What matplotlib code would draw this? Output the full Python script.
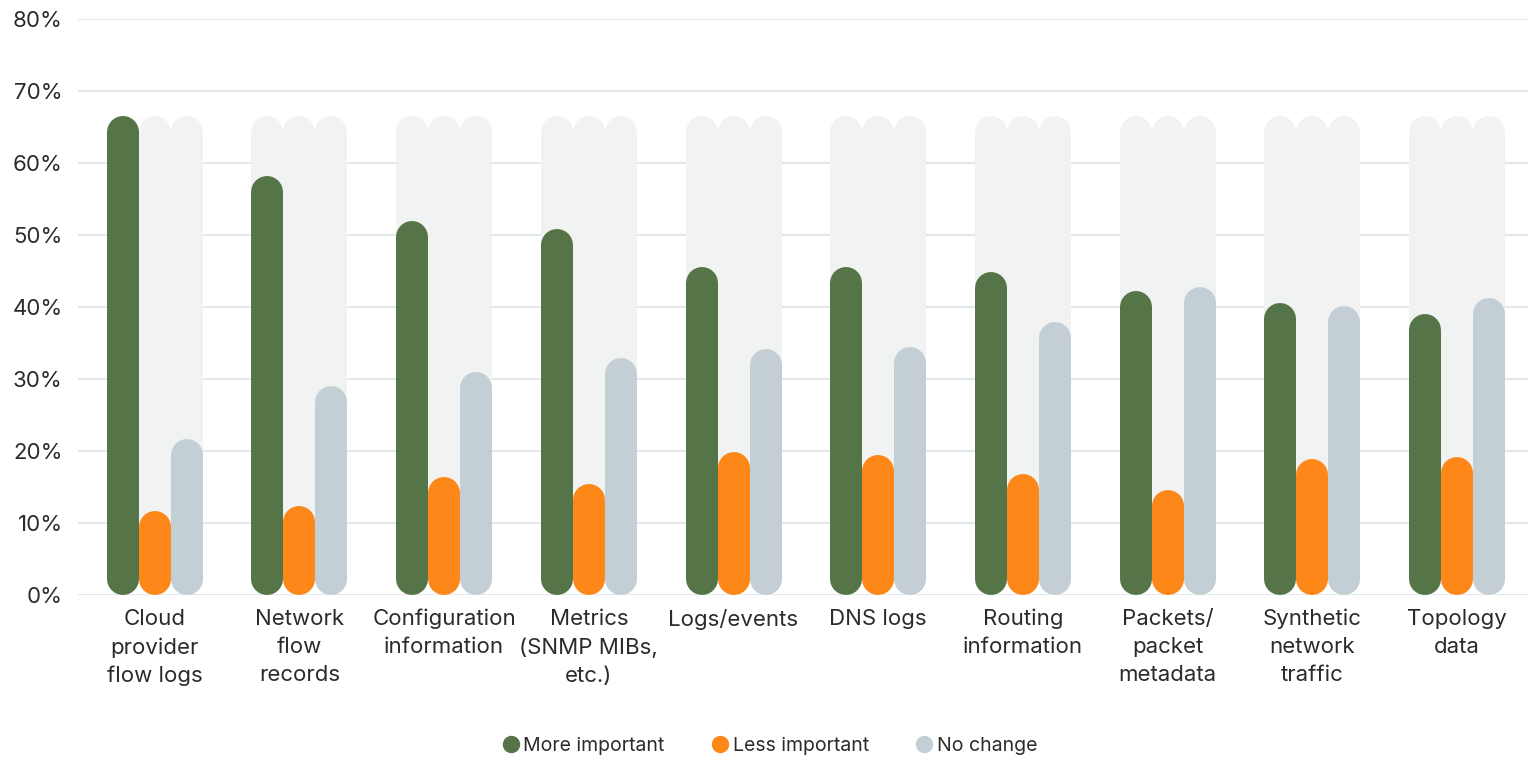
"""Grouped rounded bar chart: importance of network data sources"""

import matplotlib
matplotlib.use('Agg')
import matplotlib.pyplot as plt
from matplotlib.lines import Line2D
from matplotlib.ticker import FuncFormatter

# data
categories = ["Cloud\nprovider\nflow logs", "Network\nflow\nrecords",
              "Configuration\ninformation", "Metrics\n(SNMP MIBs,\netc.)",
              "Logs/events", "DNS logs", "Routing\ninformation",
              "Packets/\npacket\nmetadata", "Synthetic\nnetwork\ntraffic",
              "Topology\ndata"]
more_important = [66.5, 58.2, 52.0, 50.8, 45.5, 45.5, 44.8, 42.2, 40.5, 39.0]
less_important = [11.6, 12.4, 16.4, 15.4, 19.8, 19.5, 16.8, 14.6, 18.9, 19.1]
no_change = [21.6, 29.0, 31.0, 32.9, 34.2, 34.5, 37.9, 42.8, 40.2, 41.3]
series_names = ["More important", "Less important", "No change"]
yticks = [0, 10, 20, 30, 40, 50, 60, 70, 80]

GREEN, ORANGE, GRAY = '#557549', '#fd8719', '#c3cfd5'
TRACK = '#f1f3f2'
GRID = '#dde3e8'
TEXT = '#2b2b2b'

W, H, DPI = 15.31, 7.58, 100
XMIN, XMAX = -0.53, 9.49
plt.rcParams['font.family'] = ['Inter', 'DejaVu Sans']

fig = plt.figure(figsize=(W, H), dpi=DPI)
ax = fig.add_axes([0.051, 0.215, 0.947, 0.76])
ax.set_ylim(0, 80)
ax.set_xlim(XMIN, XMAX)

# bar geometry: 32 px wide, touching, round caps
bar_px = 32.0
px_per_unit_x = ax.get_position().width * W * DPI / (XMAX - XMIN)
px_per_pct = ax.get_position().height * H * DPI / 80.0
step = bar_px / px_per_unit_x
lw = bar_px * 72.0 / DPI
r = (bar_px / 2) / px_per_pct

track_top = max(more_important)

def rbar(x, v, color, z):
    ax.plot([x, x], [r, v - r], color=color, lw=lw,
            solid_capstyle='round', zorder=z)

for i in range(len(categories)):
    for j in (-1, 0, 1):
        rbar(i + j * step, track_top, TRACK, 1)
    rbar(i - step, more_important[i], GREEN, 3)
    rbar(i, less_important[i], ORANGE, 3)
    rbar(i + step, no_change[i], GRAY, 3)

ax.set_yticks(yticks)
ax.yaxis.set_major_formatter(FuncFormatter(lambda v, _: f'{v:.0f}%'))
ax.grid(axis='y', color=GRID, lw=1.2, zorder=0)
ax.set_axisbelow(True)
ax.set_xticks(range(len(categories)))
ax.set_xticklabels(categories, linespacing=1.5)
ax.tick_params(axis='y', length=0, pad=11, labelsize=16, labelcolor=TEXT)
ax.tick_params(axis='x', length=0, pad=10, labelsize=16, labelcolor=TEXT)
for s in ax.spines.values():
    s.set_visible(False)

handles = [Line2D([], [], ls='', marker='o', ms=11.5, color=c)
           for c in (GREEN, ORANGE, GRAY)]
fig.legend(handles, series_names, loc='center', bbox_to_anchor=(0.503, 0.016),
           ncol=3, frameon=False, fontsize=14, handlelength=0.8,
           handletextpad=0.25, columnspacing=2.45, labelcolor=TEXT)

fig.savefig('out.png', dpi=DPI)
